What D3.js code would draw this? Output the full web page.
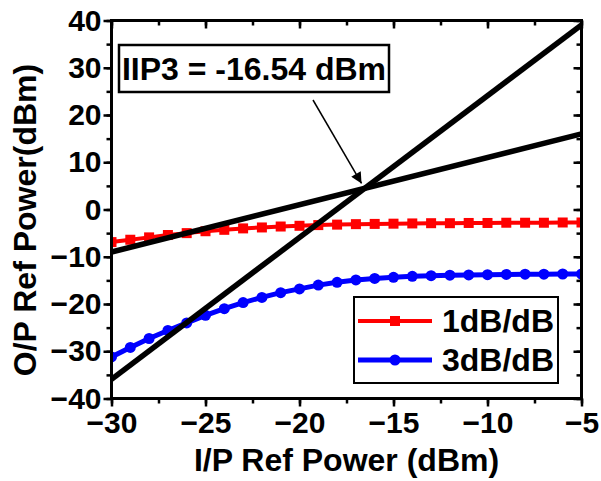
<!DOCTYPE html>
<html><head><meta charset="utf-8">
<script src="https://cdn.jsdelivr.net/npm/d3@7"></script>
<style>body{margin:0;background:#fff}svg{display:block}text{font-family:"Liberation Sans",Arial,sans-serif;font-weight:bold}</style>
</head><body><svg id="c" width="601" height="481"></svg>
<script>
const inputPower = [-30,-29,-28,-27,-26,-25,-24,-23,-22,-21,-20,-19,-18,-17,-16,-15,-14,-13,-12,-11,-10,-9,-8,-7,-6,-5];
const fund1dB = [-6.9,-6.4,-5.9,-5.4,-5.0,-4.6,-4.3,-4.0,-3.8,-3.6,-3.45,-3.3,-3.2,-3.1,-3.05,-3.0,-2.95,-2.9,-2.9,-2.85,-2.85,-2.8,-2.8,-2.8,-2.75,-2.75];
const im3dB = [-31.2,-29.2,-27.3,-25.6,-24.0,-22.4,-21.0,-19.7,-18.6,-17.6,-16.8,-16.0,-15.4,-14.9,-14.6,-14.35,-14.15,-14.0,-13.9,-13.85,-13.8,-13.75,-13.7,-13.7,-13.65,-13.65];
const fitLine1 = [[-30,-9.0],[-5,16.0]];
const fitLine3 = [[-30,-35.92],[-5,39.08]];
const iip3Point = [-16.54, 4.46];
const xTicks = [-30,-25,-20,-15,-10,-5];
const yTicks = [-40,-30,-20,-10,0,10,20,30,40];
const seriesNames = ["1dB/dB","3dB/dB"];
const annotationText = "IIP3 = -16.54 dBm";

const svg = d3.select("#c");
const L=111.5,R=581.5,T=20.5,B=398.5;
const x = d3.scaleLinear().domain([-30,-5]).range([L,R]);
const y = d3.scaleLinear().domain([-40,40]).range([B,T]);
const fmt = d3.format("");

const line = d3.line().x(d=>x(d[0])).y(d=>y(d[1]));
svg.append("defs").append("clipPath").attr("id","clip").append("rect").attr("x",L).attr("y",T).attr("width",R-L).attr("height",B-T);
const g = svg.append("g").attr("clip-path","url(#clip)");

const red = inputPower.map((v,i)=>[v,fund1dB[i]]);
const blue = inputPower.map((v,i)=>[v,im3dB[i]]);
g.append("path").attr("d",line(red)).attr("fill","none").attr("stroke","#ff0000").attr("stroke-width",4);
g.selectAll(".sq").data(red).join("rect").attr("x",d=>x(d[0])-5).attr("y",d=>y(d[1])-5).attr("width",10).attr("height",10).attr("fill","#ff0000");
g.append("path").attr("d",line(blue)).attr("fill","none").attr("stroke","#0000ff").attr("stroke-width",5);
g.selectAll(".ci").data(blue).join("circle").attr("cx",d=>x(d[0])).attr("cy",d=>y(d[1])).attr("r",5.5).attr("fill","#0000ff");

g.append("path").attr("d",line(fitLine1)).attr("stroke","#000").attr("stroke-width",5.5).attr("fill","none");
g.append("path").attr("d",line(fitLine3)).attr("stroke","#000").attr("stroke-width",5.5).attr("fill","none");

function styleAxis(sel){sel.select(".domain").remove();sel.selectAll(".tick line").attr("stroke","#000").attr("stroke-width",2.5);sel.selectAll("text").attr("font-size",30).attr("fill","#000");}
const xMinor = d3.range(-30,-4.9,2.5);
const yMinor = d3.range(-40,40.1,5);
svg.append("g").attr("transform",`translate(0,${B})`).call(d3.axisBottom(x).tickValues(xTicks).tickFormat(fmt).tickSize(8).tickPadding(5)).call(styleAxis);
svg.append("g").attr("transform",`translate(0,${B})`).call(d3.axisBottom(x).tickValues(xMinor).tickFormat("").tickSize(5)).call(styleAxis);
svg.append("g").attr("transform",`translate(${L},0)`).call(d3.axisLeft(y).tickValues(yTicks).tickFormat(fmt).tickSize(8).tickPadding(2)).call(styleAxis);
svg.append("g").attr("transform",`translate(${L},0)`).call(d3.axisLeft(y).tickValues(yMinor).tickFormat("").tickSize(5)).call(styleAxis);
svg.append("g").attr("transform",`translate(0,${T})`).call(d3.axisTop(x).tickValues(xTicks).tickFormat("").tickSize(-8)).call(styleAxis);
svg.append("g").attr("transform",`translate(0,${T})`).call(d3.axisTop(x).tickValues(xMinor).tickFormat("").tickSize(-5)).call(styleAxis);
svg.append("g").attr("transform",`translate(${R},0)`).call(d3.axisRight(y).tickValues(yTicks).tickFormat("").tickSize(-8)).call(styleAxis);
svg.append("g").attr("transform",`translate(${R},0)`).call(d3.axisRight(y).tickValues(yMinor).tickFormat("").tickSize(-5)).call(styleAxis);
svg.append("rect").attr("x",L).attr("y",T).attr("width",R-L).attr("height",B-T).attr("fill","none").attr("stroke","#000").attr("stroke-width",3);

svg.append("text").attr("x",(L+R)/2).attr("y",471).attr("text-anchor","middle").attr("font-size",32).text("I/P Ref Power (dBm)");
svg.append("text").attr("transform",`translate(36,220) rotate(-90)`).attr("text-anchor","middle").attr("font-size",32).text("O/P Ref Power(dBm)");

svg.append("rect").attr("x",119).attr("y",45).attr("width",270).attr("height",47).attr("fill","#fff").attr("stroke","#000").attr("stroke-width",2.5);
svg.append("text").attr("x",254).attr("y",80).attr("text-anchor","middle").attr("font-size",32).text(annotationText);
const ax0=313, ay0=100, ax1=x(iip3Point[0])-3, ay1=y(iip3Point[1])-5;
const mk = svg.append("defs").append("marker").attr("id","ah").attr("viewBox","0 0 10 10").attr("refX",10).attr("refY",5).attr("markerWidth",16).attr("markerHeight",11).attr("markerUnits","userSpaceOnUse").attr("orient","auto");
mk.append("path").attr("d","M0,0L10,5L0,10Z").attr("fill","#000");
svg.append("line").attr("x1",ax0).attr("y1",ay0).attr("x2",ax1).attr("y2",ay1).attr("stroke","#000").attr("stroke-width",1.5).attr("marker-end","url(#ah)");

const lg = svg.append("g");
lg.append("rect").attr("x",354).attr("y",297).attr("width",204).attr("height",86).attr("fill","#fff").attr("stroke","#000").attr("stroke-width",2);
const rows=[{c:"#ff0000",m:"sq",y:321},{c:"#0000ff",m:"ci",y:360}];
rows.forEach((r,i)=>{
  lg.append("line").attr("x1",358).attr("x2",432).attr("y1",r.y).attr("y2",r.y).attr("stroke",r.c).attr("stroke-width",i?5:4);
  if(r.m==="sq") lg.append("rect").attr("x",390).attr("y",r.y-5).attr("width",10).attr("height",10).attr("fill",r.c);
  else lg.append("circle").attr("cx",395).attr("cy",r.y).attr("r",5.5).attr("fill",r.c);
  lg.append("text").attr("x",442).attr("y",r.y+11).attr("font-size",32).text(seriesNames[i]);
});
</script></body></html>
